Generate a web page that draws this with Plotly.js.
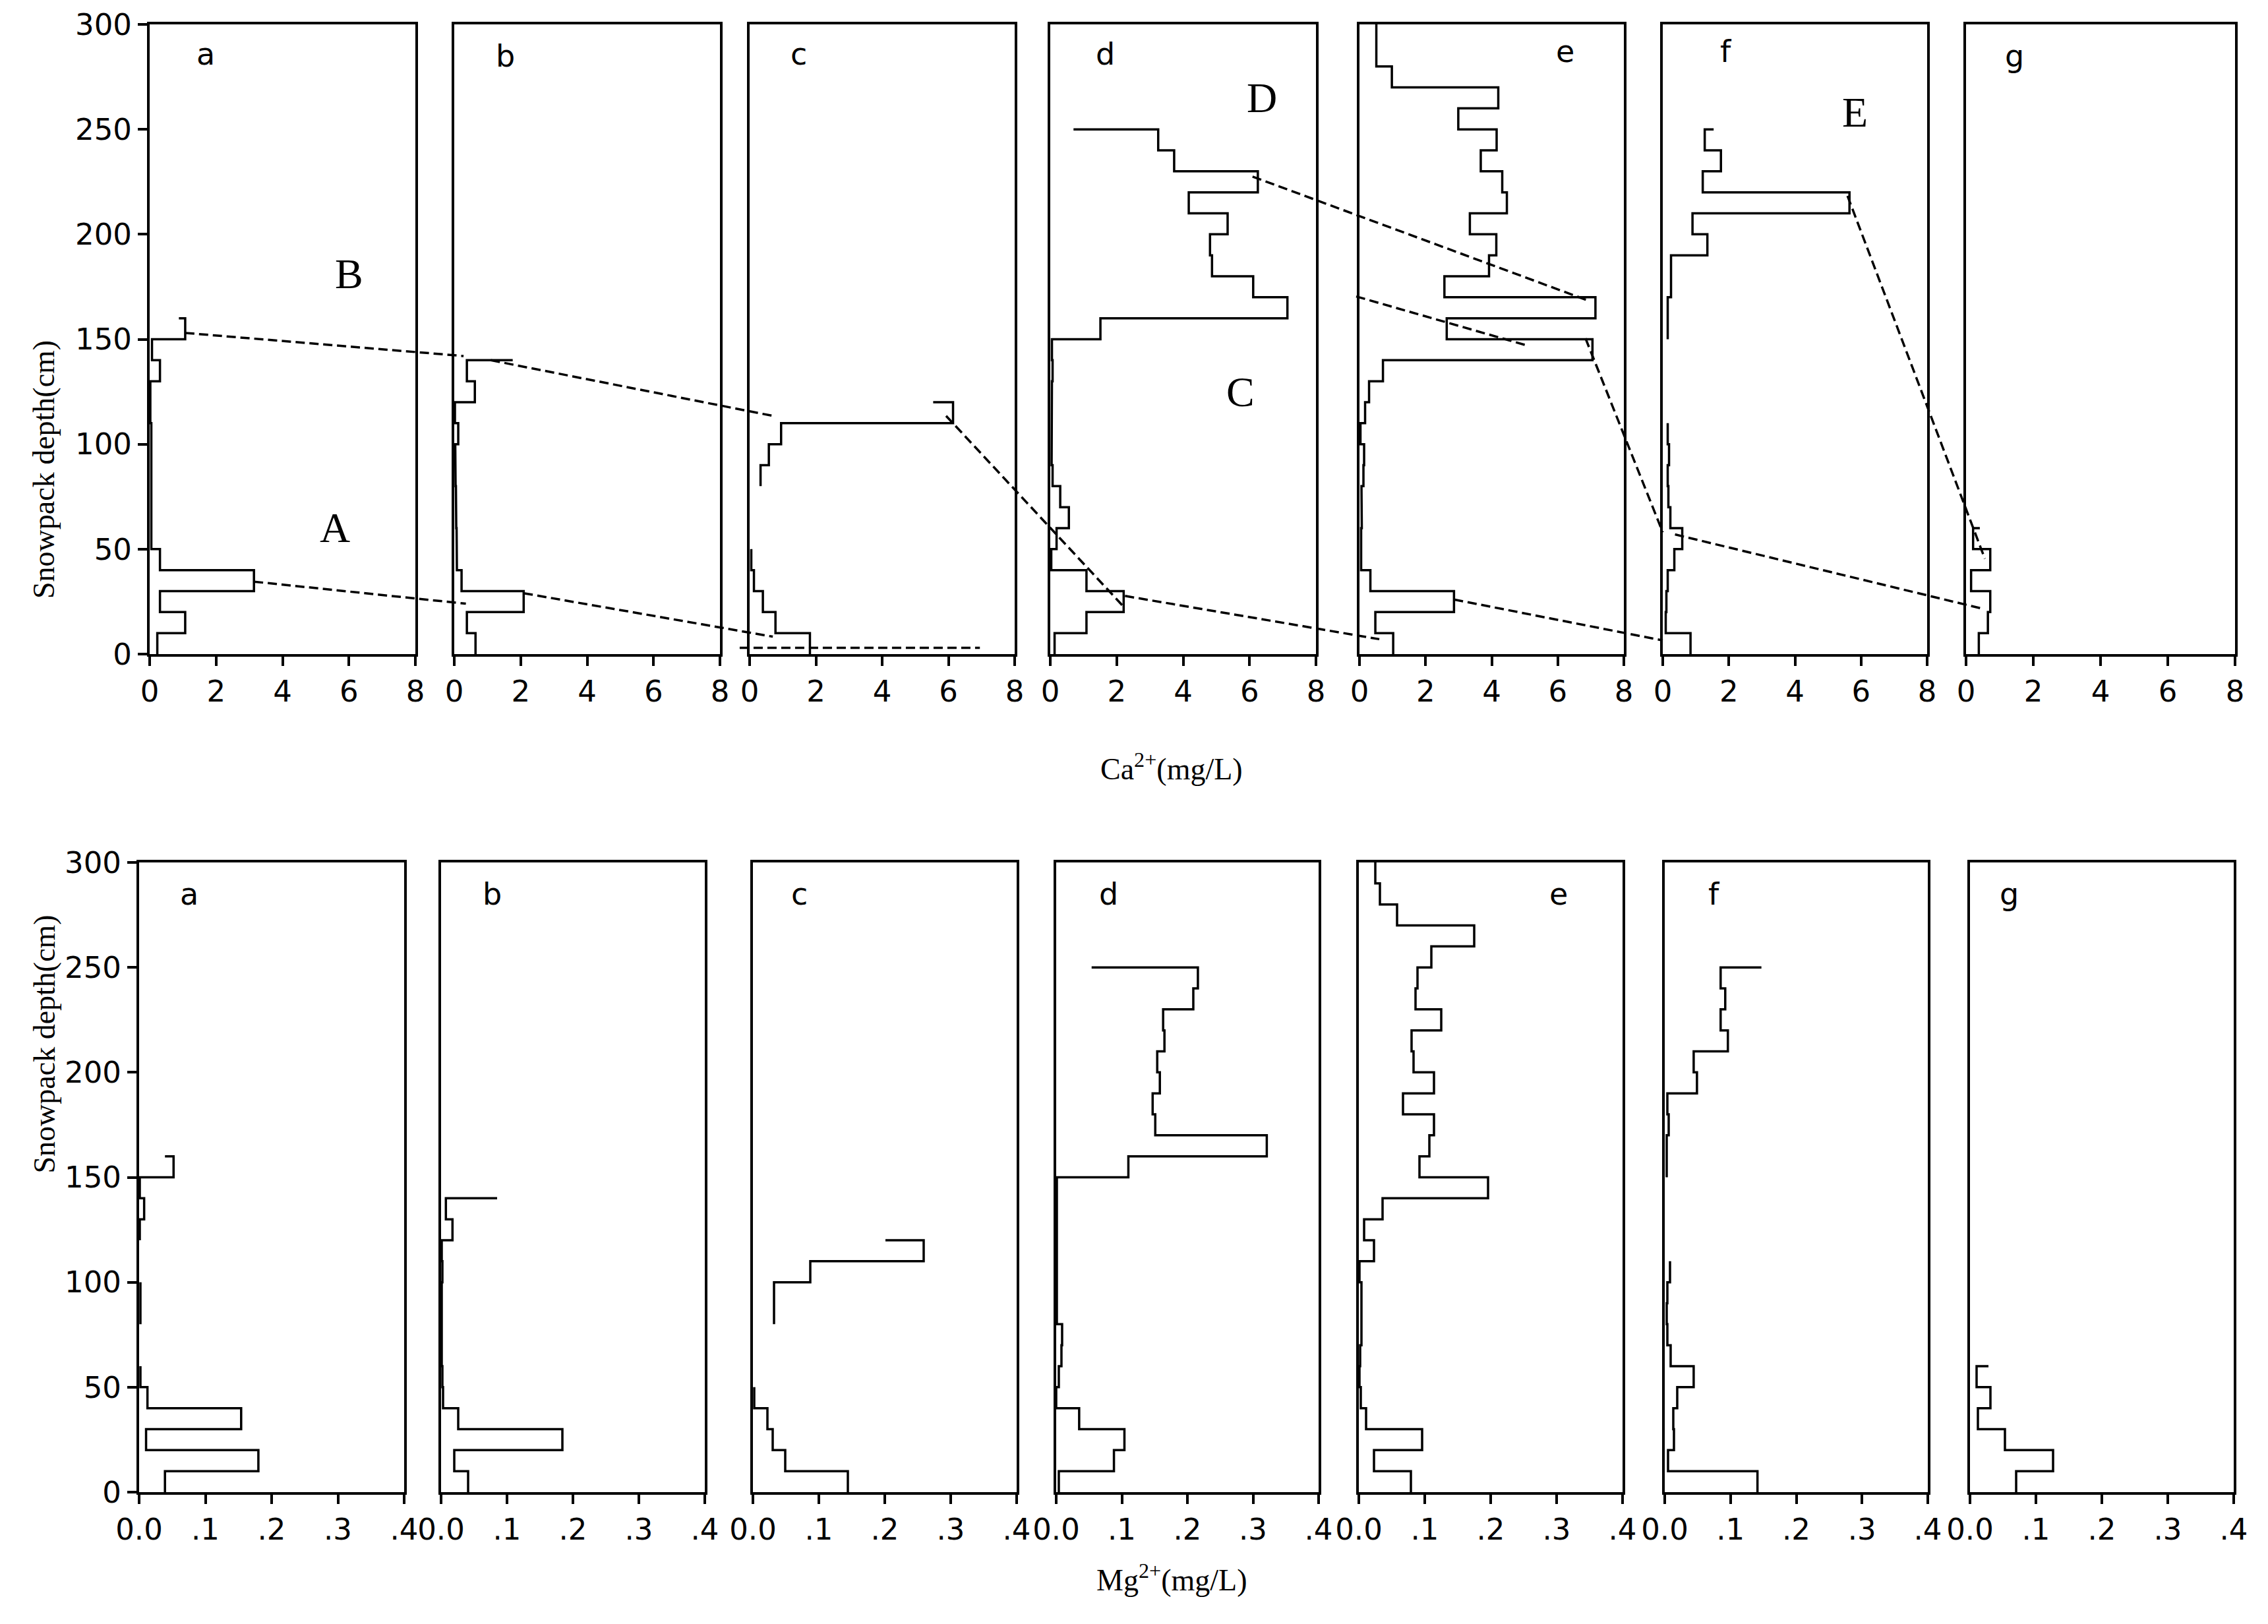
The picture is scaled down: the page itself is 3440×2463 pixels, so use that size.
<!DOCTYPE html>
<html>
<head>
<meta charset="utf-8">
<script src="https://cdn.plot.ly/plotly-3.0.1.min.js"></script>
<style>html,body{margin:0;padding:0;background:#fff}</style>
</head>
<body>
<div id="chart" style="width:3440px;height:2463px"></div>
<script>
// each profile: one value per 10 cm layer from the ground up, last value = stub at the top
// null = layer not drawn
const depthStep = 10;

// Ca2+ (mg/L)
const caA = [0.23, 1.07, 0.31, 3.14, 0.31, 0.05, 0.05, 0.04, 0.05, 0.04, 0.05, 0.02, 0.02, 0.31, 0.07, 1.07, 0.88];
const caB = [0.64, 0.38, 2.09, 0.22, 0.08, 0.07, 0.06, 0.05, 0.04, 0.03, 0.12, 0.02, 0.62, 0.38, 1.76];
const caC = [1.82, 0.78, 0.40, 0.13, 0.05, null, null, null, 0.33, 0.58, 0.95, 6.14, 5.54];
const caD = [0.13, 1.09, 2.21, 1.09, 0.03, 0.19, 0.56, 0.30, 0.07, 0.04, 0.04, 0.05, 0.05, 0.07, 0.05,
             1.51, 7.14, 6.11, 4.87, 4.81, 5.34, 4.17, 6.25, 3.73, 3.25, 0.70];
const caE = [1.02, 0.48, 2.86, 0.33, 0.05, 0.05, 0.07, 0.06, 0.12, 0.14, 0.03, 0.17, 0.29, 0.71, 7.05,
             2.64, 7.14, 2.57, 3.92, 4.14, 3.34, 4.46, 4.32, 3.67, 4.15, 2.99, 4.20, 0.98, 0.51, 0.51, 0.51];
const caF = [0.84, 0.09, 0.11, 0.15, 0.35, 0.59, 0.23, 0.17, 0.15, 0.19, 0.15, null, null, null, null,
             0.15, 0.15, 0.25, 0.25, 1.35, 0.90, 5.65, 1.21, 1.76, 1.27, 1.54];
const caG = [0.38, 0.65, 0.72, 0.15, 0.72, 0.21, 0.41];

// Mg2+ (mg/L)
const mgA = [0.039, 0.180, 0.0105, 0.154, 0.0126, 0.002, null, null, 0.002, 0.002, null, null, 0.001, 0.0076, 0.001, 0.052, 0.039];
const mgB = [0.041, 0.020, 0.184, 0.026, 0.003, 0.002, 0.001, 0.001, 0.001, 0.001, 0.002, 0.001, 0.0173, 0.0073, 0.085];
const mgC = [0.144, 0.049, 0.030, 0.022, 0.002, null, null, null, 0.032, 0.032, 0.087, 0.259, 0.201];
const mgD = [0.004, 0.088, 0.104, 0.035, 0.000, 0.004, 0.008, 0.009, 0.001, 0.001, 0.001, 0.001, 0.001, 0.001, 0.001,
             0.110, 0.321, 0.151, 0.147, 0.158, 0.154, 0.165, 0.163, 0.209, 0.216, 0.054];
const mgE = [0.079, 0.023, 0.096, 0.011, 0.003, 0.001, 0.002, 0.004, 0.004, 0.004, 0.001, 0.023, 0.008, 0.036, 0.196,
             0.092, 0.107, 0.114, 0.067, 0.114, 0.083, 0.080, 0.125, 0.086, 0.089, 0.110, 0.175, 0.058, 0.032, 0.025, 0.025];
const mgF = [0.141, 0.005, 0.014, 0.013, 0.019, 0.044, 0.009, 0.004, 0.003, 0.004, 0.008, null, null, null, null,
             0.003, 0.003, 0.006, 0.004, 0.049, 0.044, 0.096, 0.085, 0.092, 0.085, 0.147];
const mgG = [0.070, 0.126, 0.053, 0.012, 0.031, 0.010, 0.028];

const caProfiles = [caA, caB, caC, caD, caE, caF, caG];
const mgProfiles = [mgA, mgB, mgC, mgD, mgE, mgF, mgG];
const panelLetters = ["a", "b", "c", "d", "e", "f", "g"];

const caTicks = [0, 2, 4, 6, 8];
const caTickText = ["0", "2", "4", "6", "8"];
const mgTicks = [0, 0.1, 0.2, 0.3, 0.4];
const mgTickText = ["0.0", ".1", ".2", ".3", ".4"];
const depthTicks = [0, 50, 100, 150, 200, 250, 300];

// panel letter positions (value, depth)
const caLetterPos = [[1.69, 286], [1.53, 285], [1.49, 286], [1.66, 286], [6.22, 287], [1.92, 287], [1.45, 285]];
const mgLetterPos = [[0.076, 285], [0.077, 285], [0.070, 285], [0.080, 285], [0.303, 285], [0.075, 285], [0.059, 285]];

// zone labels on the Ca row: [panel, text, value, depth]
const zoneLabels = [[0, "B", 6.01, 181], [0, "A", 5.58, 60], [3, "C", 5.73, 125], [3, "D", 6.38, 265], [5, "E", 5.81, 258]];

// dashed links on the Ca row: [fromPanel, value, depth, toPanel, value, depth]
const caLinks = [
    [0, 1.07, 153, 1, 0.28, 142],
    [0, 3.14, 34.5, 1, 0.35, 24],
    [1, 1.10, 140, 2, 0.70, 113.5],
    [1, 2.09, 29, 2, 0.70, 8.3],
    [2, -0.30, 3, 2, 6.95, 3],
    [2, 5.93, 113.5, 3, 2.19, 22.9],
    [3, 2.25, 27.7, 4, 0.60, 7.1],
    [3, 6.09, 227.5, 4, 6.87, 168.7],
    [4, -0.10, 170.4, 4, 5.01, 147.3],
    [4, 6.84, 150.4, 5, 0.00, 58],
    [4, 2.86, 26, 5, 0.00, 6.5],
    [5, 0.37, 57, 6, 0.52, 21.5],
    [5, 5.59, 218.3, 6, 0.56, 45.4],
];

// page layout (px)
const W = 3440, H = 2463;
const topCols = [[227, 630], [689, 1092], [1137, 1539], [1593, 1996], [2062, 2463], [2522, 2923], [2982, 3390]];
const botCols = [[211, 613], [669, 1069], [1142, 1542], [1602, 2000], [2061, 2461], [2525, 2924], [2988, 3388]];
const topRow = [37, 992];
const botRow = [1308, 2263];
const caMax = 8, mgMax = 0.4, depthMax = 300;

const tickFont = { family: "DejaVu Sans, Arial, sans-serif", size: 45, color: "#000" };
const letterFont = { family: "DejaVu Sans, Arial, sans-serif", size: 46, color: "#000" };
const serifFont = { family: "Liberation Serif, Times New Roman, serif", size: 46, color: "#000" };

function stepPath(vals) {
    const x = [], y = [];
    for (let i = 0; i < vals.length - 1; i++) {
        if (vals[i] === null) {
            x.push(null);
            y.push(null);
            continue;
        }
        x.push(vals[i], vals[i]);
        y.push(i * depthStep, (i + 1) * depthStep);
    }
    x.push(vals[vals.length - 1]);
    y.push((vals.length - 1) * depthStep);
    return { x, y };
}

function axisId(n) {
    return n === 1 ? "" : String(n);
}

const traces = [];
const layout = {
    width: W,
    height: H,
    margin: { t: 0, r: 0, b: 0, l: 0 },
    paper_bgcolor: "#fff",
    plot_bgcolor: "#fff",
    showlegend: false,
    annotations: [],
    shapes: [],
};

function addRow(rowIdx, profiles, cols, rowPx, xMax, ticks, tickText, letterPos) {
    const yDom = [1 - rowPx[1] / H, 1 - rowPx[0] / H];
    profiles.forEach((vals, i) => {
        const n = rowIdx * 7 + i + 1;
        const id = axisId(n);
        const p = stepPath(vals);
        traces.push({
            type: "scatter",
            mode: "lines",
            x: p.x,
            y: p.y,
            xaxis: "x" + id,
            yaxis: "y" + id,
            line: { color: "#000", width: 3.5 },
            hoverinfo: "skip",
        });
        layout["xaxis" + id] = {
            domain: [cols[i][0] / W, cols[i][1] / W],
            anchor: "y" + id,
            range: [0, xMax],
            tickvals: ticks,
            ticktext: tickText,
            ticks: "outside",
            ticklen: 14,
            tickwidth: 4,
            tickcolor: "#000",
            showline: true,
            mirror: true,
            linewidth: 4,
            linecolor: "#000",
            showgrid: false,
            zeroline: false,
            tickfont: tickFont,
        };
        layout["yaxis" + id] = {
            domain: yDom,
            anchor: "x" + id,
            range: [0, depthMax],
            tickvals: depthTicks,
            ticks: i === 0 ? "outside" : "",
            showticklabels: i === 0,
            ticklen: 14,
            tickwidth: 4,
            tickcolor: "#000",
            showline: true,
            mirror: true,
            linewidth: 4,
            linecolor: "#000",
            showgrid: false,
            zeroline: false,
            tickfont: tickFont,
        };
        layout.annotations.push({
            text: panelLetters[i],
            x: letterPos[i][0],
            y: letterPos[i][1],
            xref: "x" + id,
            yref: "y" + id,
            showarrow: false,
            font: letterFont,
        });
    });
    // top and bottom frame lines run on past the last panel
    const last = "x" + axisId(rowIdx * 7 + 7);
    const lastY = "y" + axisId(rowIdx * 7 + 7);
    const ext = xMax + xMax * (W - cols[6][1]) / (cols[6][1] - cols[6][0]);
    [0, depthMax].forEach((d) => {
        layout.shapes.push({
            type: "line", xref: last, yref: lastY,
            x0: xMax, x1: ext, y0: d, y1: d,
            line: { color: "#000", width: 4 },
        });
    });
}

addRow(0, caProfiles, topCols, topRow, caMax, caTicks, caTickText, caLetterPos);
addRow(1, mgProfiles, botCols, botRow, mgMax, mgTicks, mgTickText, mgLetterPos);

zoneLabels.forEach(([panel, txt, v, d]) => {
    const id = axisId(panel + 1);
    layout.annotations.push({
        text: txt, x: v, y: d, xref: "x" + id, yref: "y" + id,
        showarrow: false,
        font: { ...serifFont, size: 64 },
    });
});

function caToPaper(panel, v, d) {
    const c = topCols[panel];
    const px = c[0] + (v / caMax) * (c[1] - c[0]);
    const py = topRow[1] - (d / depthMax) * (topRow[1] - topRow[0]);
    return [px / W, 1 - py / H];
}

caLinks.forEach(([p0, v0, d0, p1, v1, d1]) => {
    const a = caToPaper(p0, v0, d0);
    const b = caToPaper(p1, v1, d1);
    layout.shapes.push({
        type: "line", xref: "paper", yref: "paper",
        x0: a[0], y0: a[1], x1: b[0], y1: b[1],
        line: { color: "#000", width: 3.5, dash: "14px,7px" },
    });
});

// axis titles
[(topRow[0] + topRow[1]) / 2, 1782].forEach((py) => {
    layout.annotations.push({
        text: "Snowpack depth(cm)",
        x: 39 / W, y: 1 - py / H, xref: "paper", yref: "paper",
        textangle: -90, showarrow: false,
        font: serifFont,
    });
});
layout.annotations.push({
    text: "Ca<sup>2+</sup>(mg/L)", x: 1777 / W, y: 1 - 1163 / H,
    xref: "paper", yref: "paper", showarrow: false, font: serifFont,
});
layout.annotations.push({
    text: "Mg<sup>2+</sup>(mg/L)", x: 1777 / W, y: 1 - 2424 / H,
    xref: "paper", yref: "paper", showarrow: false, font: serifFont,
});

Plotly.newPlot("chart", traces, layout, { displayModeBar: false, staticPlot: true });
</script>
</body>
</html>
